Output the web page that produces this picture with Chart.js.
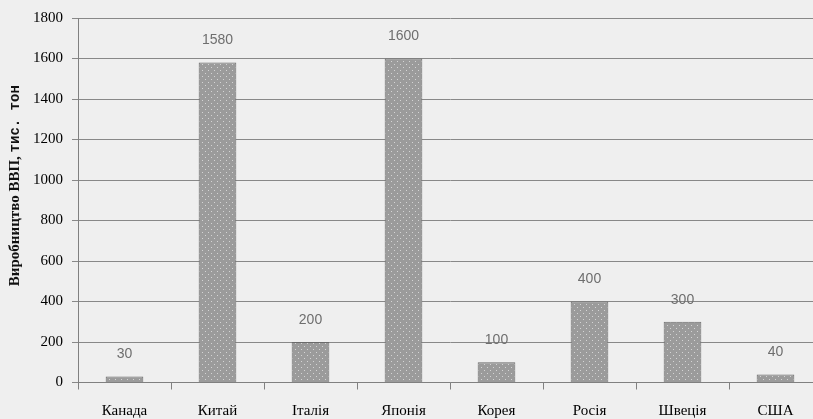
<!DOCTYPE html>
<html>
<head>
<meta charset="utf-8">
<script src="https://cdn.jsdelivr.net/npm/chart.js@4.4.1/dist/chart.umd.min.js"></script>
<style>
  html, body { margin: 0; padding: 0; background: #efefef; overflow: hidden; }
  #wrap { width: 813px; height: 419px; position: relative; overflow: hidden; }
  canvas { display: block; }
</style>
</head>
<body>
<div id="wrap"><canvas id="c" width="830" height="419"></canvas></div>
<script>
const countries = ['Канада', 'Китай', 'Італія', 'Японія', 'Корея', 'Росія', 'Швеція', 'США'];
const production = [30, 1580, 200, 1600, 100, 400, 300, 40];
const yTicks = [0, 200, 400, 600, 800, 1000, 1200, 1400, 1600, 1800];
const yTitleMain = 'Виробництво ВВП, ';
const yTitleUnit = 'тис. тон';

// dotted grey fill for the bars
function dotPattern() {
  const p = document.createElement('canvas');
  p.width = 6; p.height = 6;
  const g = p.getContext('2d');
  g.fillStyle = '#9b9b9b';
  g.fillRect(0, 0, 6, 6);
  g.fillStyle = '#d4d4d4';
  g.fillRect(1, 1, 1, 1);
  g.fillRect(4, 4, 1, 1);
  return g.createPattern(p, 'repeat');
}

// value written above each bar
const valueLabels = {
  id: 'valueLabels',
  afterDatasetsDraw(chart) {
    const ctx = chart.ctx;
    const meta = chart.getDatasetMeta(0);
    ctx.save();
    ctx.font = '14px "Liberation Sans Narrow", "Liberation Sans"';
    ctx.fillStyle = '#6e6e6e';
    ctx.textAlign = 'center';
    ctx.textBaseline = 'middle';
    meta.data.forEach((bar, i) => {
      ctx.fillText(String(production[i]), bar.x, bar.y - 22);
    });
    ctx.restore();
  }
};

// rotated y-axis title: serif name, typewriter unit
const yTitle = {
  id: 'yTitle',
  afterDraw(chart) {
    const ctx = chart.ctx;
    const area = chart.chartArea;
    ctx.save();
    ctx.translate(15, area.top + (area.bottom - area.top) * 0.46);
    ctx.rotate(-Math.PI / 2);
    ctx.fillStyle = '#111';
    ctx.textBaseline = 'middle';
    const f1 = 'bold 15px "Liberation Serif"';
    const f2 = 'bold 14px "Liberation Mono"';
    ctx.font = f1;
    const w1 = ctx.measureText(yTitleMain).width;
    ctx.font = f2;
    const w2 = ctx.measureText(yTitleUnit).width;
    let x = -(w1 + w2) / 2;
    ctx.font = f1;
    ctx.textAlign = 'left';
    ctx.fillText(yTitleMain, x, 0);
    ctx.font = f2;
    ctx.fillText(yTitleUnit, x + w1, 0);
    ctx.restore();
  }
};

new Chart(document.getElementById('c'), {
  type: 'bar',
  data: {
    labels: countries,
    datasets: [{
      data: production,
      backgroundColor: dotPattern(),
      borderColor: '#6a6a6a',
      borderWidth: 1,
      borderSkipped: 'bottom',
      barPercentage: 0.405,
      categoryPercentage: 1
    }]
  },
  options: {
    responsive: false,
    animation: false,
    layout: { padding: { top: 17, right: 8, bottom: 0, left: 0 } },
    plugins: { legend: { display: false }, tooltip: { enabled: false } },
    scales: {
      x: {
        afterFit(s) { s.height = 36.5; },
        grid: { display: true, drawOnChartArea: false, offset: true, color: '#808080', tickLength: 7 },
        border: { color: '#808080' },
        ticks: { color: '#000', font: { family: 'Liberation Serif', size: 15 }, padding: 13 }
      },
      y: {
        min: 0, max: 1800,
        afterBuildTicks(s) { s.ticks = yTicks.map(v => ({ value: v })); },
        afterFit(s) { s.width = 78; },
        grid: { color: '#888', tickLength: 6 },
        border: { color: '#808080' },
        ticks: { color: '#000', font: { family: 'Liberation Serif', size: 15 }, padding: 9, callback: v => String(v) }
      }
    }
  },
  plugins: [valueLabels, yTitle]
});
</script>
</body>
</html>
